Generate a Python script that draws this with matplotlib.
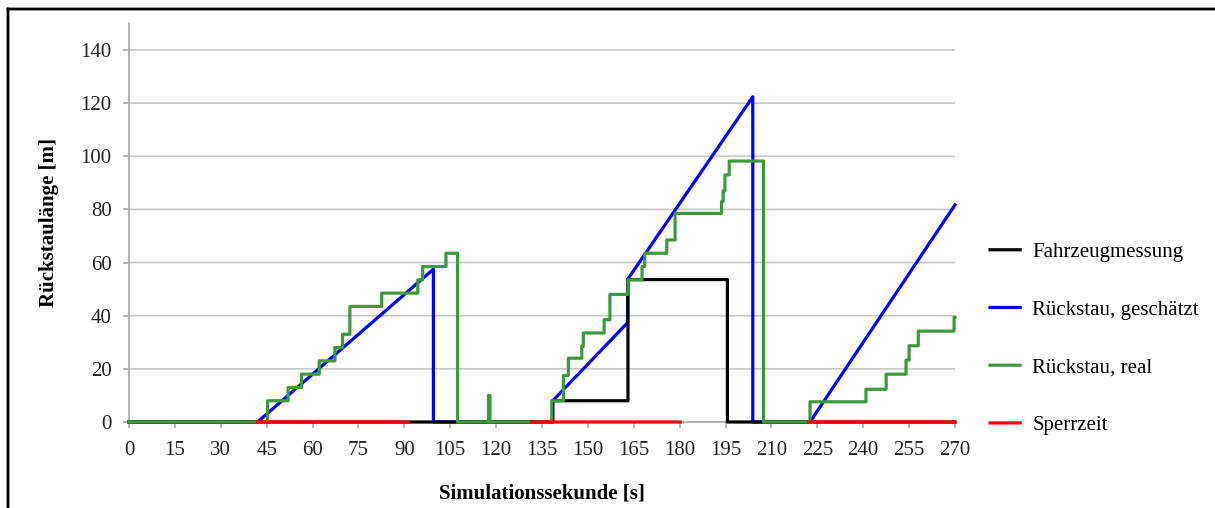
import numpy as np
import matplotlib
matplotlib.use('Agg')
import matplotlib.pyplot as plt
from matplotlib.lines import Line2D

plt.rcParams['font.family'] = ['Liberation Serif', 'DejaVu Serif']
plt.rcParams['path.snap'] = False

# Rückstau, real (step changes)
real_t = [0, 45.3, 52.0, 56.4, 62.2, 67.3, 69.8, 72.2, 82.6, 94.4, 96.0, 103.6, 107.4,
          117.5, 118.0, 138.2, 142.0, 143.6, 148.0, 148.5, 155.3, 157.2, 163.1, 167.7,
          168.6, 175.8, 178.5, 193.7, 194.2, 194.8, 196.2, 207.4, 222.6, 240.9, 247.5,
          254.0, 255.0, 258.0, 269.7, 270]
real_v = [0, 8, 13, 18, 23, 28, 33, 43.5, 48.5, 53.5, 58.5, 63.5, 0,
          10, 0, 8, 17.5, 24, 28.5, 33.5, 38.5, 48, 53.5, 58.5,
          63.5, 68.5, 78.5, 83, 87, 93, 98.2, 0, 7.6, 12.3, 18,
          23.3, 28.7, 34.2, 39.4, 39.4]

# Rückstau, geschätzt (vertices)
est_t = [0, 42.0, 99.5, 99.5, 138.5, 138.5, 163.0, 163.0, 203.9, 203.9, 222.6, 270]
est_v = [0, 0, 57.5, 0, 0, 8, 37.4, 53.7, 122.4, 0, 0, 81.7]

# Fahrzeugmessung (vertices)
meas_t = [0, 138.5, 138.5, 163.1, 163.1, 195.6, 195.6, 270]
meas_v = [0, 0, 8, 8, 53.6, 53.6, 0, 0]

# Sperrzeit intervals
block_start = [42.0, 131.6, 222.2]
block_end = [91.0, 180.2, 270.0]

fig = plt.figure(figsize=(12.15, 5.08), dpi=100)
ax = fig.add_axes([129 / 1215, 86 / 508, 826 / 1215, 398.6 / 508])

lw = 2.3
ax.plot(meas_t, meas_v, color='#000000', lw=lw, label='Fahrzeugmessung', clip_on=False, zorder=4)
ax.plot(est_t, est_v, color='#0000ff', lw=lw, label='Rückstau, geschätzt', clip_on=False, zorder=3)
ax.step(real_t, real_v, where='post', color='#3c9a3c', lw=lw, label='Rückstau, real',
        clip_on=False, zorder=5)

rx, ry = [], []
for a, b in zip(block_start, block_end):
    rx += [a, b, np.nan]
    ry += [0, 0, np.nan]
ax.plot(rx, ry, color='#ff0000', lw=lw, label='Sperrzeit', clip_on=False, zorder=6)

ax.set_xlim(0, 270)
ax.set_ylim(0, 150)
ax.set_xticks(np.arange(0, 271, 15))
ax.set_yticks(np.arange(0, 141, 20))
ax.grid(axis='y', color='#c8c8c8', lw=1.2)
ax.set_axisbelow(True)
for s in ['top', 'right']:
    ax.spines[s].set_visible(False)
for s in ['left', 'bottom']:
    ax.spines[s].set_color('#a8a8a8')
    ax.spines[s].set_linewidth(1.2)
ax.tick_params(colors='#a8a8a8', labelcolor='#222222', labelsize=15, length=4.5, width=1.2)
ax.tick_params(axis='y', pad=8)
ax.tick_params(axis='x', pad=9)

ax.set_xlabel('Simulationssekunde [s]', fontsize=15, fontweight='bold')
ax.set_ylabel('Rückstaulänge [m]', fontsize=15, fontweight='bold')
ax.xaxis.set_label_coords(0.5, -0.155)
ax.yaxis.set_label_coords(-0.085, 0.5)

ax.legend(loc='center left', bbox_to_anchor=(990 / 1215, 0.333), bbox_transform=fig.transFigure,
          frameon=False, fontsize=15, borderpad=0, borderaxespad=0, handlelength=1.45,
          handletextpad=0.58, labelspacing=1.83)

# figure border (top and left)
fig.add_artist(Line2D([8 / 1215, 8 / 1215], [0, 1 - 9 / 508], color='black', lw=2,
                      transform=fig.transFigure))
fig.add_artist(Line2D([8 / 1215, 1], [1 - 9 / 508, 1 - 9 / 508], color='black', lw=2,
                      transform=fig.transFigure))

fig.savefig('out.png', dpi=100)
